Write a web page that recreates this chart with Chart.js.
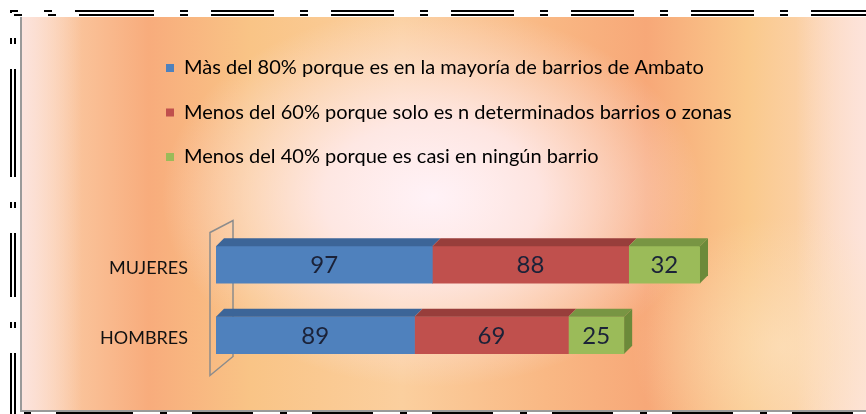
<!DOCTYPE html>
<html>
<head>
<meta charset="utf-8">
<script src="https://cdn.jsdelivr.net/npm/chart.js@4.4.1/dist/chart.umd.min.js"></script>
<style>
  html, body { margin: 0; padding: 0; background: #fff; }
  #wrap { position: relative; width: 866px; height: 414px; overflow: hidden; }
  #bg {
    position: absolute; left: 20px; top: 17px; width: 846px; height: 395px;
    box-sizing: border-box;
    border-left: 2px solid #9a9a9a; border-bottom: 2px solid #9a9a9a;
    background:
      radial-gradient(ellipse 270px 190px at 410px 180px, rgba(255,242,247,1) 0%, rgba(255,236,240,0.85) 40%, rgba(255,230,230,0) 100%),
      radial-gradient(ellipse 150px 130px at 760px 330px, rgba(253,226,190,0.7) 0%, rgba(253,226,190,0) 100%),
      linear-gradient(to right, rgba(252,228,224,0.95) 0px, rgba(252,228,224,0) 60px),
      linear-gradient(to left, rgba(253,228,220,0.95) 0px, rgba(253,228,220,0) 70px),
      linear-gradient(to right, #fbd5b2 0%, #f8ac7c 15%, #f9c486 27%, #fbcf9e 45%, #f9b884 62%, #f7a878 74%, #fac98c 86%, #fcd9c2 100%);
  }
  .hz, .vt { position: absolute; }
  .hz { height: 2px; }
  .vt { width: 2px; }
  .top { left: 10px; width: 856px;
    background: repeating-linear-gradient(to right, #000 0 63px, transparent 63px 89px, #000 89px 97px, transparent 97px 120px);
    background-position: 81px 0; }
  .bot { left: 10px; width: 856px;
    background: repeating-linear-gradient(to right, #000 0 61px, transparent 61px 88px, #000 88px 95px, transparent 95px 120px);
    background-position: 62px 0; }
  .lft { top: 10px; height: 404px;
    background: repeating-linear-gradient(to bottom, #000 0 64px, transparent 64px 89px, #000 89px 95px, transparent 95px 120px);
    background-position: 0 103px; }
  canvas { position: absolute; left: 0; top: 0; }
</style>
</head>
<body>
<div id="wrap">
  <div id="bg"></div>
  <div class="hz top" style="top:10px"></div>
  <div class="hz top" style="top:14px; left:14px; width:852px; background-position:77px 0"></div>
  <div class="hz bot" style="top:412px"></div>
  <div class="vt lft" style="left:10px"></div>
  <div class="vt lft" style="left:14px; top:14px; background-position:0 99px"></div>
  <canvas id="barChart" width="866" height="414"></canvas>
</div>
<script>
const categories = ['MUJERES', 'HOMBRES']
const seriesNames = [
  'Màs del 80% porque es en la mayoría de barrios de Ambato',
  'Menos del 60% porque solo es n determinados barrios o zonas',
  'Menos del 40% porque es casi en ningún barrio'
]
const mas80 = [97, 89]
const menos60 = [88, 69]
const menos40 = [32, 25]
const xMax = 250

// darker shades for the fake 3d faces
const topShade = ['#3c6598', '#983e3b', '#789543']

const bars3d = {
  id: 'bars3d',
  afterLayout(chart) {
    // legend sits further right than the axis labels
    chart.legend.left += 46.5
    chart.legend.right += 46.5
  },
  beforeDatasetsDraw(chart) {
    const {ctx, chartArea: a} = chart
    ctx.save()
    ctx.strokeStyle = '#8c8c8c'
    ctx.lineWidth = 1.5
    ctx.beginPath()
    ctx.moveTo(a.left - 6, a.top + 3)
    ctx.lineTo(a.left + 17, a.top - 9)
    ctx.lineTo(a.left + 17, a.bottom - 14)
    ctx.lineTo(a.left - 6, a.bottom + 5)
    ctx.closePath()
    ctx.stroke()
    ctx.restore()
  },
  afterDatasetsDraw(chart) {
    const ctx = chart.ctx
    const d = 8
    const last = chart.data.datasets.length - 1
    ctx.save()
    chart.data.datasets.forEach((ds, i) => {
      chart.getDatasetMeta(i).data.forEach((bar, j) => {
        const {x, y, base, height} = bar.getProps(['x', 'y', 'base', 'height'], true)
        const top = y - height / 2
        const bottom = y + height / 2
        ctx.fillStyle = topShade[i]
        ctx.beginPath()
        ctx.moveTo(base, top)
        ctx.lineTo(x, top)
        ctx.lineTo(x + d, top - d)
        ctx.lineTo(base + d, top - d)
        ctx.closePath()
        ctx.fill()
        if (i === last) {
          ctx.fillStyle = '#6c8a3a'
          ctx.beginPath()
          ctx.moveTo(x, top)
          ctx.lineTo(x + d, top - d)
          ctx.lineTo(x + d, bottom - d)
          ctx.lineTo(x, bottom)
          ctx.closePath()
          ctx.fill()
        }
        ctx.fillStyle = '#1b2238'
        ctx.font = '24px Lato'
        ctx.textAlign = 'center'
        ctx.textBaseline = 'middle'
        ctx.fillText(ds.data[j], (base + x) / 2, y + 1)
      })
    })
    ctx.restore()
  }
}

let barChart = document.getElementById('barChart').getContext('2d')

let respuestaChart = new Chart(barChart, {
  type: 'bar',
  data: {
    labels: categories,
    datasets: [
      { label: seriesNames[0], data: mas80, backgroundColor: '#4f81bd' },
      { label: seriesNames[1], data: menos60, backgroundColor: '#c0504d' },
      { label: seriesNames[2], data: menos40, backgroundColor: '#9bbb59' }
    ]
  },
  options: {
    responsive: false,
    animation: false,
    indexAxis: 'y',
    barThickness: 37,
    layout: {
      padding: { left: 95, top: 33.5, right: 92.4, bottom: 43.5 }
    },
    plugins: {
      legend: {
        position: 'top',
        align: 'start',
        labels: {
          boxWidth: 8,
          boxHeight: 8,
          padding: 24.5,
          color: '#000',
          font: { family: 'Lato', size: 20 }
        }
      },
      tooltip: { enabled: false }
    },
    scales: {
      x: {
        stacked: true,
        min: 0,
        max: xMax,
        position: 'top',
        afterFit: s => { s.height = 52.5 },
        ticks: { display: false },
        grid: { display: false, drawTicks: false },
        border: { display: false }
      },
      y: {
        stacked: true,
        afterFit: s => { s.width = 121 },
        ticks: {
          padding: 28,
          labelOffset: 3,
          color: '#111',
          font: { family: 'Lato', size: 18 }
        },
        grid: { display: false, drawTicks: false },
        border: { display: false }
      }
    }
  },
  plugins: [bars3d]
})
</script>
</body>
</html>
